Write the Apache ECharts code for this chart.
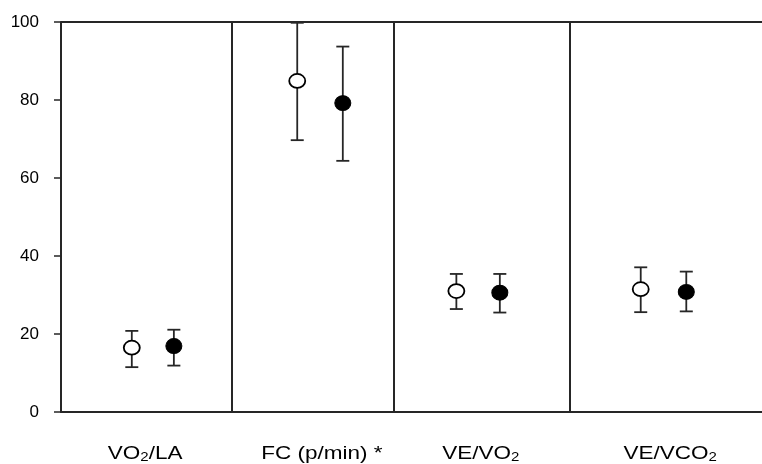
<!DOCTYPE html>
<html>
<head>
<meta charset="utf-8">
<script src="https://cdn.jsdelivr.net/npm/echarts@6/dist/echarts.min.js"></script>
<style>html,body{margin:0;padding:0;background:#fff}#c{width:762px;height:464px}</style>
</head>
<body>
<div id="c"></div>
<script>
// Category labels (rich text for subscripts) and their x positions
var categories = ['VO{s|2}/LA', 'FC (p/min) *', 'VE/VO{s|2}', 'VE/VCO{s|2}'];
var labelX = [12.0, 37.2, 59.9, 86.9];
// Panel dividers (x position)
var dividers = [24.4, 47.4, 72.6];
// Group 1 (open circles)
var openX = [10.1, 33.7, 56.4, 82.7];
var openMean = [16.5, 84.9, 31.0, 31.5];
var openLow = [11.5, 69.7, 26.4, 25.6];
var openHigh = [20.8, 99.8, 35.4, 37.1];
// Group 2 (filled circles)
var filledX = [16.1, 40.2, 62.6, 89.2];
var filledMean = [16.9, 79.2, 30.6, 30.8];
var filledLow = [11.9, 64.4, 25.5, 25.8];
var filledHigh = [21.1, 93.7, 35.4, 36.0];
// Y ticks
var yTicks = [0, 20, 40, 60, 80, 100];

var FONT = 'Liberation Sans, Arial, sans-serif';
var LINE = '#262626';

function pts(xs, ys) { return xs.map(function (x, i) { return [x, ys[i]]; }); }
function errData(xs, lo, hi) { return xs.map(function (x, i) { return [x, lo[i], hi[i]]; }); }

function errRender(params, api) {
  var x = api.value(0);
  var lo = api.coord([x, api.value(1)]);
  var hi = api.coord([x, api.value(2)]);
  var hw = 6.5;
  var st = { stroke: LINE, lineWidth: 1.8 };
  return {
    type: 'group',
    children: [
      { type: 'line', shape: { x1: lo[0], y1: lo[1], x2: hi[0], y2: hi[1] }, style: st },
      { type: 'line', shape: { x1: lo[0] - hw, y1: lo[1], x2: lo[0] + hw, y2: lo[1] }, style: st },
      { type: 'line', shape: { x1: hi[0] - hw, y1: hi[1], x2: hi[0] + hw, y2: hi[1] }, style: st }
    ]
  };
}

function labelRender(params, api) {
  var p = api.coord([api.value(0), 0]);
  return {
    type: 'text',
    x: p[0], y: p[1] + 42,
    scaleX: 1.25,
    style: {
      text: categories[params.dataIndex],
      fill: '#000',
      font: '18px ' + FONT,
      align: 'center', verticalAlign: 'middle',
      rich: {
        s: { fill: '#000', font: '12px ' + FONT, padding: [8, 0, 0, 0] }
      }
    }
  };
}

var chart = echarts.init(document.getElementById('c'), null, { renderer: 'canvas' });
chart.setOption({
  animation: false,
  backgroundColor: '#fff',
  grid: { left: 61, right: 0, top: 22, bottom: 52 },
  xAxis: {
    type: 'value', min: 0, max: 100,
    axisLine: { show: true, lineStyle: { color: LINE, width: 2 } },
    axisTick: { show: false }, axisLabel: { show: false }, splitLine: { show: false }
  },
  yAxis: {
    type: 'value', min: 0, max: 100, interval: 20,
    axisLine: { show: true, lineStyle: { color: LINE, width: 2 } },
    axisTick: { show: true, length: 7, lineStyle: { color: LINE, width: 1.5 } },
    axisLabel: {
      margin: 22, color: '#000', fontSize: 17, fontFamily: FONT,
      formatter: function (v) { return yTicks.indexOf(v) >= 0 ? String(v) : ''; }
    },
    splitLine: { show: false }
  },
  series: [
    {
      type: 'custom', renderItem: errRender, data: errData(openX, openLow, openHigh),
      encode: { x: 0, y: [1, 2] }, z: 2, silent: true
    },
    {
      type: 'custom', renderItem: errRender, data: errData(filledX, filledLow, filledHigh),
      encode: { x: 0, y: [1, 2] }, z: 2, silent: true
    },
    {
      type: 'scatter', data: pts(openX, openMean), symbol: 'circle', symbolSize: [16, 14],
      itemStyle: { color: '#fff', borderColor: '#000', borderWidth: 1.7, opacity: 1 }, z: 3
    },
    {
      type: 'scatter', data: pts(filledX, filledMean), symbol: 'circle', symbolSize: [16, 15],
      itemStyle: { color: '#000', borderColor: '#000', borderWidth: 1, opacity: 1 }, z: 3
    },
    {
      type: 'custom', renderItem: labelRender, clip: false, silent: true,
      data: labelX.map(function (x) { return [x, 0]; }),
      encode: { x: 0, y: 1 },
      markLine: {
        silent: true, symbol: 'none', label: { show: false },
        lineStyle: { color: LINE, width: 2, type: 'solid' },
        data: dividers.map(function (d) { return { xAxis: d }; }).concat([{ yAxis: 100 }])
      }
    }
  ]
});
</script>
</body>
</html>
